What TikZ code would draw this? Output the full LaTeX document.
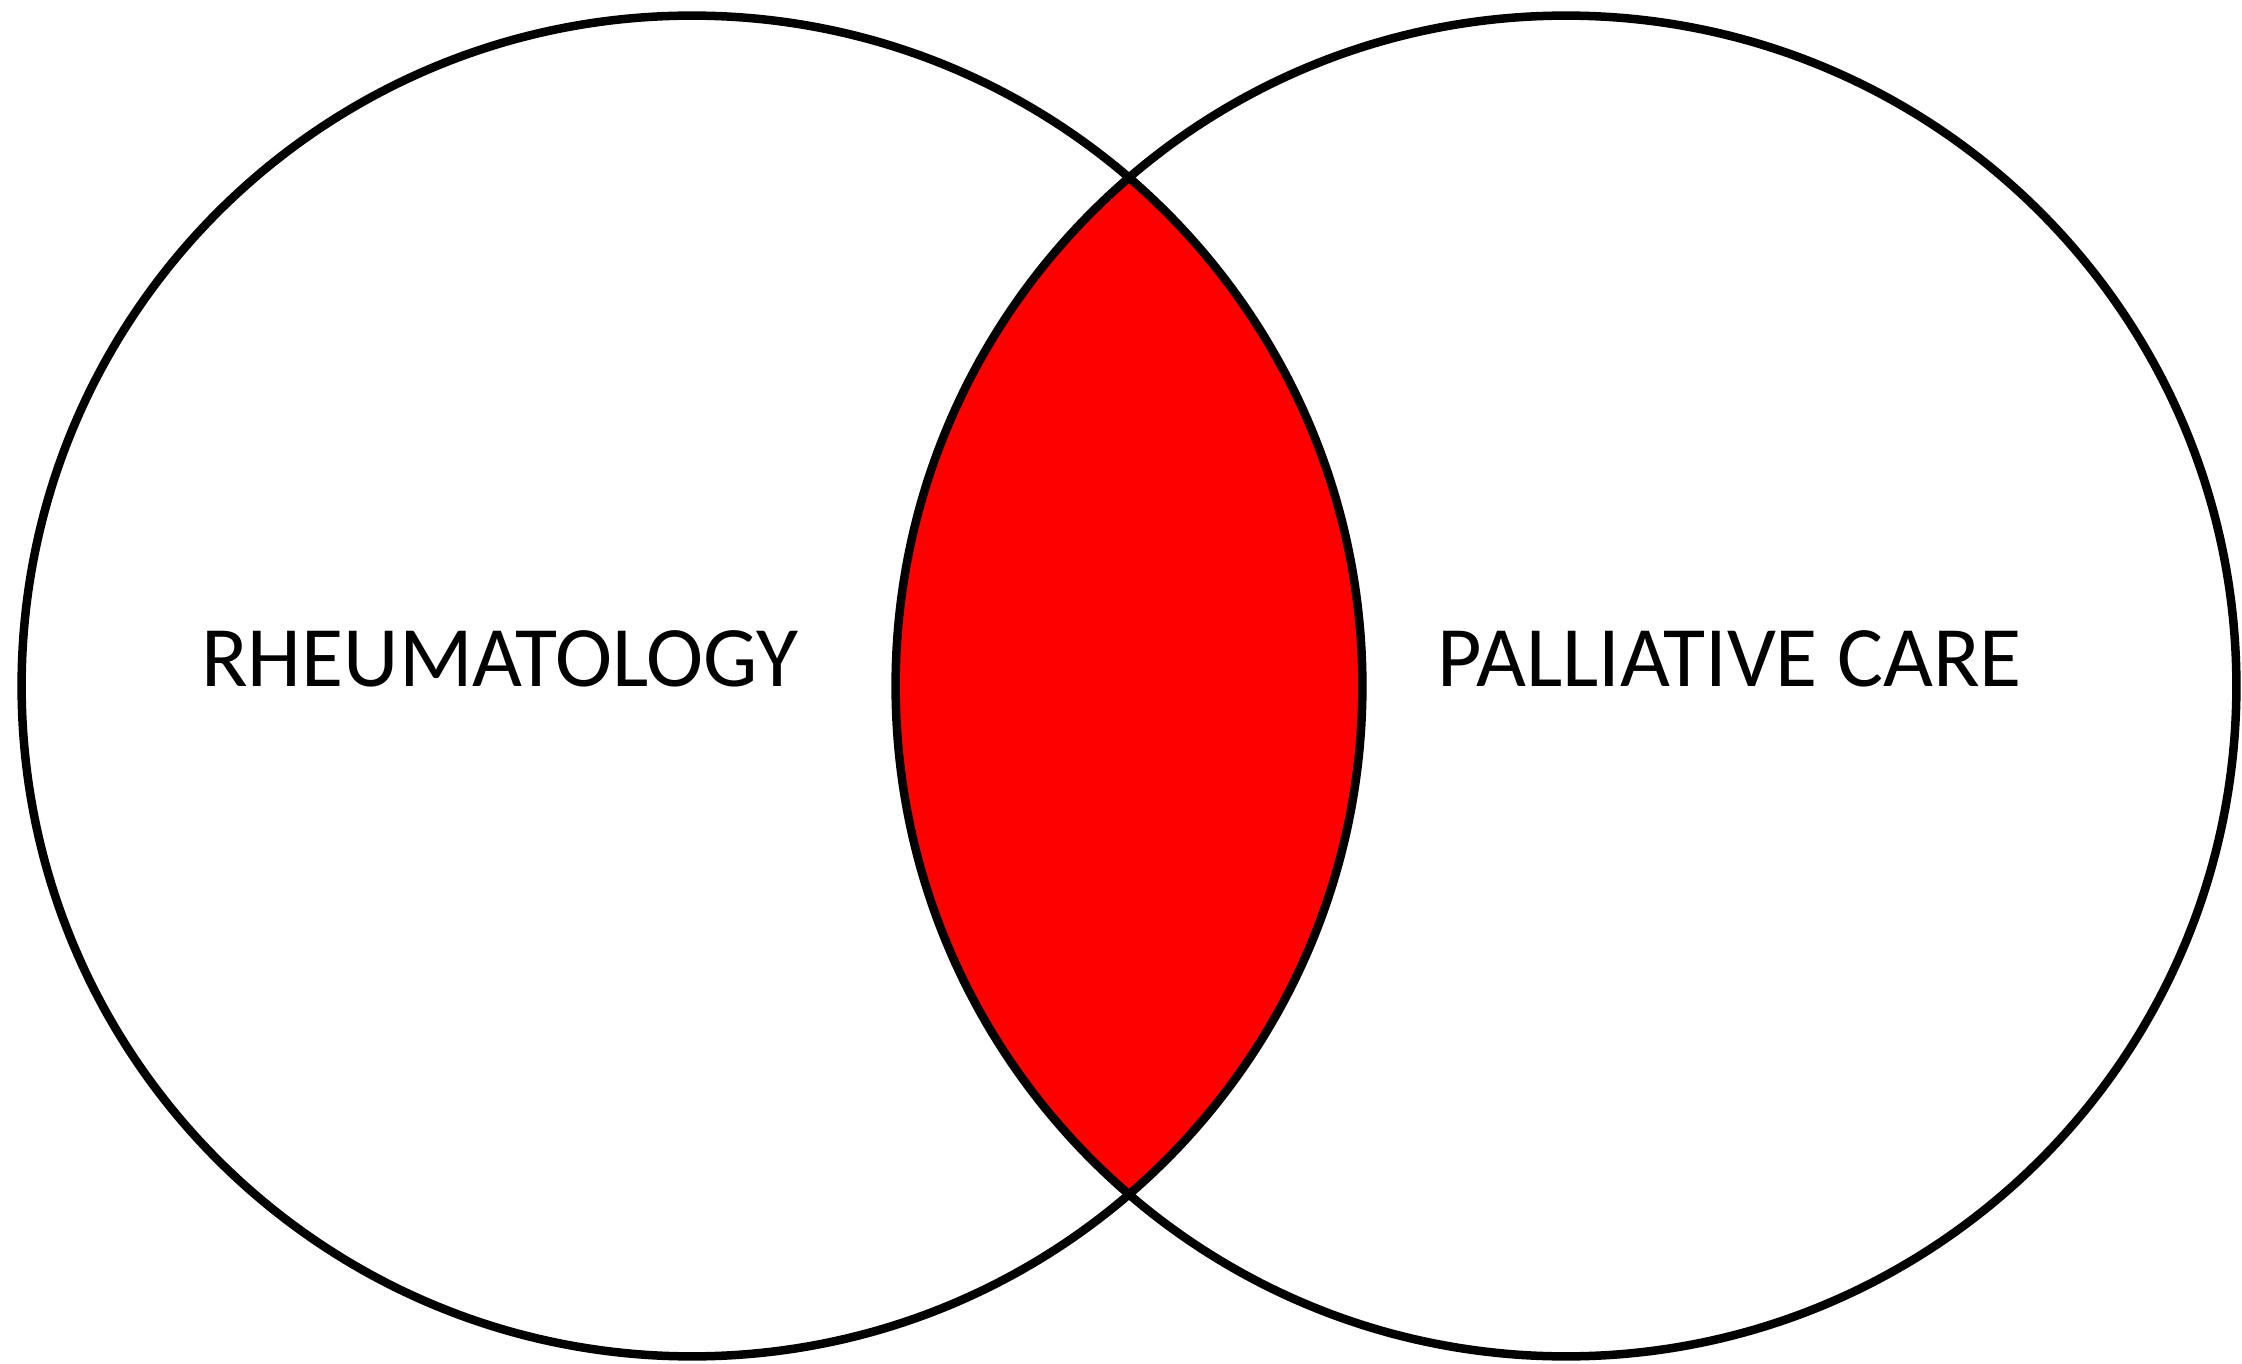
\documentclass[tikz,border=0pt]{standalone}
\usepackage{fontspec}
\setmainfont{Carlito}
\begin{document}
\begin{tikzpicture}[x=0.01cm,y=-0.01cm,
  ring/.style={circle,draw=black,line width=0.085cm,inner sep=0pt,minimum size=13.4cm},
  label/.style={font=\fontsize{24.5}{28}\selectfont,anchor=base,inner sep=0pt}]
\useasboundingbox (0,0) rectangle (2242,1364);
\fill[white] (0,0) rectangle (2242,1364);
\coordinate (cl) at (692,686);
\coordinate (cr) at (1566,686);
\begin{scope}
  \clip (cl) circle[radius=6.7cm];
  \fill[red] (cr) circle[radius=6.7cm];
\end{scope}
\node[ring] (left) at (cl) {};
\node[ring] (right) at (cr) {};
\node[label] (rheu) at (500,686) {RHEUMATOLOGY};
\node[label] (pall) at (1730,686) {PALLIATIVE CARE};
\end{tikzpicture}
\end{document}
